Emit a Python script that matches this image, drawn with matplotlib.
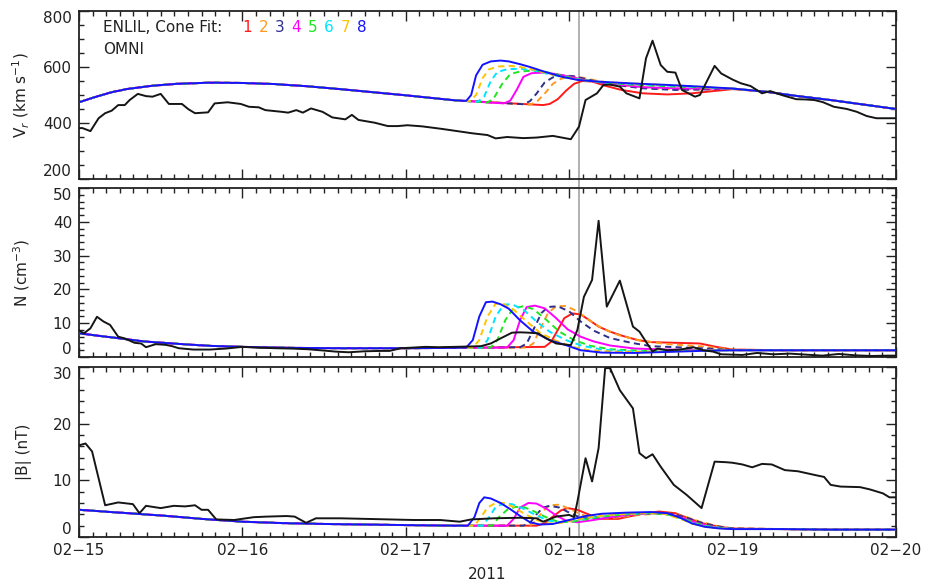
import matplotlib
matplotlib.use("Agg")
import matplotlib.pyplot as plt
from matplotlib.lines import Line2D
from matplotlib.transforms import blended_transform_factory
from matplotlib.ticker import MultipleLocator, FixedLocator

plt.rcParams['font.family'] = ['DejaVu Sans']

# days of February 2011
day_ticks = [15, 16, 17, 18, 19, 20]
day_labels = ['02\u221215', '02\u221216', '02\u221217', '02\u221218', '02\u221219', '02\u221220']
shock_day = 18.06

cone_names = ['1', '2', '3', '4', '5', '6', '7', '8']
cone_colors = ['#ff1a1a', '#ff9a1f', '#2e2e8c', '#ff00ff', '#1fe61f', '#00e5ff', '#ffc400', '#1414ff']
cone_dashed = [False, True, True, False, True, True, True, False]

# ---------------- Vr (km/s) ----------------
vr_bg = [(15.0, 474), (15.1, 493), (15.2, 510), (15.3, 522), (15.45, 533), (15.6, 540), (15.8, 544),
         (16.0, 543), (16.2, 539), (16.4, 531), (16.6, 521), (16.8, 510), (17.0, 499), (17.2, 487), (17.3, 481)]
vr_tail = [(19.2, 512), (19.4, 496), (19.6, 482), (19.8, 466), (20.0, 450)]
vr_c1 = [(17.84, 464), (17.88, 468), (17.93, 485), (17.98, 515), (18.03, 540), (18.08, 550), (18.14, 548),
         (18.22, 533), (18.32, 518), (18.45, 506), (18.6, 502), (18.75, 506), (18.9, 515), (19.0, 521)]
vr_c2 = [(17.76, 466), (17.8, 475), (17.85, 505), (17.9, 540), (17.95, 558), (18.01, 566), (18.08, 562),
         (18.18, 550), (18.35, 533), (18.55, 522), (18.75, 520), (18.9, 521), (19.0, 523)]
vr_c3 = [(17.72, 467), (17.76, 478), (17.8, 505), (17.85, 545), (17.9, 563), (17.96, 570), (18.03, 567),
         (18.1, 557), (18.25, 538), (18.45, 524), (18.65, 518), (18.85, 520), (19.0, 523)]
vr_c4 = [(17.6, 470), (17.64, 480), (17.68, 520), (17.72, 565), (17.77, 578), (17.84, 580), (17.92, 575),
         (18.0, 566), (18.1, 553), (18.25, 540), (18.45, 528), (18.65, 524), (18.85, 523), (19.0, 523)]
vr_c5 = [(17.5, 473), (17.54, 490), (17.59, 540), (17.64, 575), (17.7, 584), (17.78, 587), (17.86, 582),
         (17.95, 570), (18.05, 557), (18.2, 545), (18.4, 536), (18.6, 531), (18.8, 527), (19.0, 523)]
vr_c6 = [(17.44, 476), (17.48, 495), (17.52, 550), (17.56, 582), (17.62, 592), (17.7, 594), (17.78, 588),
         (17.88, 574), (17.98, 562), (18.08, 553), (18.25, 543), (18.5, 536), (18.7, 531), (18.85, 526), (19.0, 523)]
vr_c7 = [(17.39, 478), (17.43, 500), (17.47, 560), (17.51, 592), (17.57, 602), (17.64, 604), (17.7, 600),
         (17.8, 588), (17.9, 572), (18.0, 560), (18.1, 552), (18.3, 543), (18.5, 538), (18.7, 533), (18.85, 527), (19.0, 523)]
vr_c8 = [(17.37, 479), (17.4, 500), (17.43, 570), (17.47, 608), (17.52, 620), (17.58, 623), (17.63, 620),
         (17.7, 610), (17.76, 600), (17.85, 583), (17.95, 566), (18.05, 554), (18.2, 547), (18.4, 541),
         (18.6, 536), (18.8, 530), (19.0, 523)]
vr_omni = [(14.98, 381), (15.02, 382), (15.07, 371), (15.12, 417), (15.16, 435), (15.2, 444), (15.24, 464),
           (15.28, 464), (15.31, 482), (15.36, 504), (15.41, 496), (15.45, 494), (15.5, 504), (15.55, 468),
           (15.63, 468), (15.67, 449), (15.71, 435), (15.79, 438), (15.83, 470), (15.91, 474), (15.99, 468),
           (16.04, 458), (16.1, 456), (16.14, 446), (16.24, 440), (16.28, 437), (16.33, 446), (16.37, 437),
           (16.42, 452), (16.49, 440), (16.55, 420), (16.63, 413), (16.67, 429), (16.71, 411), (16.81, 401),
           (16.89, 389), (16.95, 389), (17.01, 392), (17.1, 388), (17.22, 379), (17.41, 363), (17.5, 357),
           (17.55, 345), (17.62, 350), (17.72, 346), (17.8, 348), (17.9, 354), (18.01, 342), (18.06, 387),
           (18.1, 482), (18.17, 506), (18.21, 536), (18.25, 537), (18.31, 530), (18.35, 506), (18.43, 488),
           (18.47, 631), (18.51, 694), (18.56, 607), (18.6, 583), (18.65, 580), (18.69, 518), (18.77, 494),
           (18.8, 500), (18.89, 604), (18.93, 577), (19.0, 555), (19.05, 542), (19.11, 532), (19.18, 506),
           (19.23, 514), (19.3, 500), (19.39, 485), (19.45, 484), (19.5, 482), (19.55, 475), (19.62, 458),
           (19.7, 450), (19.76, 440), (19.82, 425), (19.88, 417), (20.0, 417)]

# ---------------- N (cm^-3) ----------------
n_bg = [(15.0, 7.0), (15.2, 5.8), (15.4, 4.6), (15.6, 3.9), (15.8, 3.3), (16.0, 3.0), (16.3, 2.7),
        (16.6, 2.6), (17.0, 2.6), (17.3, 2.7)]
n_tail = [(19.3, 2.0), (19.6, 2.0), (20.0, 2.0)]
n_c1 = [(17.85, 3.0), (17.89, 4.5), (17.93, 8.0), (17.97, 11.5), (18.02, 12.9), (18.07, 12.6), (18.12, 11.0),
        (18.18, 9.0), (18.25, 7.5), (18.33, 6.2), (18.42, 5.0), (18.5, 4.4), (18.8, 4.0), (18.9, 3.0), (19.0, 2.2)]
n_c2 = [(17.74, 2.8), (17.78, 4.0), (17.82, 8.0), (17.87, 13.0), (17.92, 15.0), (17.98, 15.1), (18.05, 13.5),
        (18.12, 11.0), (18.2, 8.5), (18.3, 6.5), (18.42, 5.0), (18.6, 3.8), (18.8, 3.2), (19.0, 2.2)]
n_c3 = [(17.7, 2.9), (17.74, 4.0), (17.78, 8.0), (17.83, 13.0), (17.87, 14.8), (17.93, 15.0), (18.0, 13.5),
        (18.07, 10.5), (18.15, 7.8), (18.25, 5.6), (18.38, 4.2), (18.5, 3.2), (18.7, 2.8), (18.85, 2.5), (19.0, 2.0)]
n_c4 = [(17.62, 2.8), (17.66, 5.0), (17.7, 11.0), (17.74, 14.8), (17.79, 15.2), (17.85, 14.4), (17.92, 11.5),
        (17.99, 8.2), (18.07, 6.0), (18.15, 4.6), (18.25, 3.4), (18.4, 2.5), (18.6, 2.2), (18.8, 2.1), (19.0, 2.0)]
n_c5 = [(17.52, 2.8), (17.56, 5.0), (17.61, 11.0), (17.66, 14.5), (17.72, 15.0), (17.78, 14.2), (17.86, 11.0),
        (17.94, 7.5), (18.03, 5.0), (18.13, 3.3), (18.25, 2.3), (18.45, 1.8), (18.65, 1.9), (19.0, 2.0)]
n_c6 = [(17.46, 2.8), (17.5, 5.0), (17.55, 12.0), (17.6, 15.5), (17.65, 15.6), (17.72, 14.0), (17.8, 10.5),
        (17.88, 7.5), (17.98, 5.0), (18.08, 3.3), (18.2, 2.2), (18.4, 1.6), (18.6, 1.7), (18.8, 1.9), (19.0, 2.0)]
n_c7 = [(17.41, 2.8), (17.45, 5.0), (17.5, 12.0), (17.55, 15.8), (17.6, 15.6), (17.66, 14.0), (17.74, 10.5),
        (17.82, 7.2), (17.92, 4.8), (18.02, 3.0), (18.12, 2.0), (18.3, 1.5), (18.6, 1.6), (18.8, 1.9), (19.0, 2.0)]
n_c8 = [(17.37, 2.8), (17.41, 5.0), (17.45, 12.0), (17.49, 16.2), (17.53, 16.4), (17.58, 15.6), (17.63, 14.3),
        (17.7, 10.8), (17.78, 7.5), (17.88, 5.0), (17.98, 3.5), (18.07, 2.0), (18.2, 1.3), (18.4, 1.2),
        (18.6, 1.5), (18.8, 1.8), (19.0, 2.0)]
n_omni = [(14.99, 8.2), (15.03, 7.0), (15.07, 8.5), (15.11, 11.9), (15.15, 10.5), (15.19, 9.5), (15.24, 6.0),
          (15.28, 5.5), (15.34, 4.2), (15.38, 4.0), (15.41, 2.9), (15.47, 3.8), (15.53, 3.6), (15.57, 3.2),
          (15.61, 2.6), (15.7, 2.2), (15.8, 2.2), (15.9, 2.5), (16.0, 3.0), (16.08, 2.8), (16.2, 2.6),
          (16.3, 2.5), (16.4, 2.3), (16.5, 1.9), (16.57, 1.6), (16.65, 1.4), (16.75, 1.7), (16.85, 1.8),
          (16.9, 1.8), (16.97, 2.6), (17.05, 2.8), (17.12, 3.0), (17.2, 2.9), (17.3, 3.0), (17.46, 3.2),
          (17.52, 4.0), (17.58, 5.5), (17.65, 7.2), (17.7, 7.3), (17.75, 7.2), (17.81, 7.0), (17.86, 5.5),
          (17.92, 4.0), (18.01, 3.5), (18.05, 8.0), (18.09, 17.8), (18.14, 22.8), (18.18, 40.3), (18.23, 14.9),
          (18.31, 22.6), (18.39, 9.0), (18.43, 7.5), (18.47, 4.5), (18.51, 1.6), (18.54, 2.5), (18.6, 2.0),
          (18.68, 2.2), (18.76, 2.9), (18.82, 2.0), (18.88, 1.6), (18.93, 0.8), (19.0, 0.7), (19.06, 0.6),
          (19.15, 1.2), (19.25, 0.8), (19.35, 1.0), (19.45, 0.7), (19.55, 0.4), (19.65, 0.9), (19.75, 0.5),
          (19.85, 0.3), (19.95, 0.4), (20.0, 0.4)]

# ---------------- |B| (nT) ----------------
b_bg = [(15.0, 4.8), (15.25, 4.3), (15.5, 3.8), (15.75, 3.2), (16.0, 2.7), (16.25, 2.45), (16.5, 2.3),
        (16.75, 2.2), (17.0, 2.1), (17.3, 2.0)]
b_tail = [(19.3, 1.4), (19.6, 1.3), (20.0, 1.3)]
b_c1 = [(17.8, 2.0), (17.85, 2.4), (17.9, 3.6), (17.95, 4.7), (17.99, 5.1), (18.05, 4.8), (18.1, 4.2),
        (18.19, 3.2), (18.3, 3.2), (18.43, 4.0), (18.55, 4.5), (18.65, 4.2), (18.73, 3.3), (18.82, 2.4),
        (18.92, 1.8), (19.0, 1.5)]
b_c2 = [(17.76, 2.0), (17.8, 3.0), (17.84, 4.6), (17.88, 5.6), (17.94, 5.7), (18.0, 5.0), (18.07, 4.0),
        (18.15, 3.3), (18.25, 3.3), (18.4, 3.8), (18.52, 4.1), (18.63, 4.1), (18.72, 3.5), (18.8, 2.7),
        (18.9, 2.0), (19.0, 1.5)]
b_c3 = [(17.72, 2.0), (17.76, 2.5), (17.8, 4.0), (17.84, 5.2), (17.88, 5.5), (17.94, 5.2), (18.0, 4.3),
        (18.07, 3.4), (18.15, 3.2), (18.25, 3.5), (18.4, 4.0), (18.52, 4.2), (18.63, 4.1), (18.72, 3.4),
        (18.8, 2.6), (18.9, 1.9), (19.0, 1.5)]
b_c4 = [(17.62, 2.0), (17.66, 3.2), (17.7, 5.2), (17.75, 6.0), (17.8, 5.9), (17.86, 5.0), (17.92, 3.8),
        (17.98, 2.9), (18.05, 2.6), (18.15, 3.0), (18.25, 3.5), (18.4, 4.0), (18.52, 4.2), (18.62, 4.0),
        (18.71, 3.2), (18.79, 2.4), (18.88, 1.8), (19.0, 1.4)]
b_c5 = [(17.53, 2.0), (17.57, 3.5), (17.62, 4.8), (17.67, 5.3), (17.72, 5.3), (17.78, 4.6), (17.85, 3.6),
        (17.92, 2.8), (18.0, 2.6), (18.1, 3.1), (18.2, 3.6), (18.35, 4.0), (18.5, 4.2), (18.6, 4.0),
        (18.7, 3.2), (18.78, 2.4), (18.87, 1.8), (19.0, 1.4)]
b_c6 = [(17.47, 2.0), (17.51, 3.5), (17.55, 5.3), (17.6, 5.9), (17.65, 5.8), (17.72, 5.0), (17.8, 3.8),
        (17.87, 2.9), (17.95, 2.6), (18.05, 3.0), (18.15, 3.5), (18.3, 4.0), (18.45, 4.2), (18.58, 4.1),
        (18.68, 3.3), (18.76, 2.4), (18.85, 1.8), (19.0, 1.4)]
b_c7 = [(17.42, 2.0), (17.46, 3.5), (17.5, 5.2), (17.55, 6.0), (17.6, 6.0), (17.66, 5.3), (17.72, 4.2),
        (17.8, 3.0), (17.87, 2.4), (17.95, 2.5), (18.05, 3.1), (18.15, 3.6), (18.3, 4.0), (18.45, 4.2),
        (18.58, 4.1), (18.68, 3.2), (18.76, 2.3), (18.85, 1.7), (19.0, 1.4)]
b_c8 = [(17.38, 2.0), (17.42, 3.5), (17.45, 6.0), (17.48, 7.0), (17.52, 6.8), (17.58, 6.0), (17.64, 4.9),
        (17.7, 3.7), (17.76, 2.6), (17.82, 2.2), (17.9, 2.3), (18.0, 3.0), (18.1, 3.7), (18.2, 4.1),
        (18.35, 4.3), (18.5, 4.4), (18.6, 4.2), (18.68, 3.4), (18.75, 2.4), (18.83, 1.8), (18.92, 1.5), (19.0, 1.4)]
b_omni = [(14.99, 16.1), (15.04, 16.5), (15.08, 15.1), (15.16, 5.6), (15.24, 6.1), (15.33, 5.8), (15.37, 4.2),
          (15.41, 5.5), (15.5, 5.1), (15.58, 5.5), (15.65, 5.4), (15.71, 5.6), (15.75, 4.8), (15.79, 4.8),
          (15.84, 3.1), (15.95, 3.0), (16.07, 3.5), (16.15, 3.6), (16.27, 3.7), (16.32, 3.6), (16.39, 2.5),
          (16.45, 3.3), (16.6, 3.3), (16.75, 3.2), (16.9, 3.1), (17.05, 3.0), (17.21, 3.0), (17.33, 2.7),
          (17.4, 3.1), (17.54, 3.3), (17.7, 3.4), (17.8, 3.3), (17.84, 2.7), (17.92, 3.6), (18.0, 3.9),
          (18.03, 3.5), (18.05, 6.2), (18.1, 13.9), (18.14, 9.8), (18.18, 15.7), (18.22, 29.8), (18.25, 29.8),
          (18.31, 25.9), (18.39, 22.7), (18.43, 14.8), (18.47, 13.9), (18.51, 14.6), (18.56, 12.4),
          (18.64, 9.2), (18.72, 7.4), (18.81, 5.1), (18.89, 13.3), (18.96, 13.2), (19.0, 13.1), (19.06, 12.8),
          (19.12, 12.3), (19.18, 12.9), (19.24, 12.8), (19.32, 11.8), (19.4, 11.6), (19.51, 10.9),
          (19.56, 10.6), (19.6, 9.2), (19.66, 8.9), (19.78, 8.8), (19.84, 8.4), (19.92, 7.7), (19.96, 7.0),
          (20.0, 7.0)]

vr_cones = [vr_c1, vr_c2, vr_c3, vr_c4, vr_c5, vr_c6, vr_c7, vr_c8]
n_cones = [n_c1, n_c2, n_c3, n_c4, n_c5, n_c6, n_c7, n_c8]
b_cones = [b_c1, b_c2, b_c3, b_c4, b_c5, b_c6, b_c7, b_c8]

W, H = 929, 582
fig = plt.figure(figsize=(W / 100, H / 100), dpi=100)


def px_rect(top, bottom, left=79, right=896):
    return [left / W, 1 - bottom / H, (right - left) / W, (bottom - top) / H]


panels = [
    (px_rect(11, 179), vr_bg, vr_cones, vr_tail, vr_omni, (200, 800), 200, 50, 'V$_r$ (km s$^{-1}$)'),
    (px_rect(188, 357), n_bg, n_cones, n_tail, n_omni, (0, 50), 10, 2, 'N (cm$^{-3}$)'),
    (px_rect(367, 537), b_bg, b_cones, b_tail, b_omni, (0, 30), 10, 2, '|B| (nT)'),
]

FS = 11
axes = []
for rect, bg, cones, tail, omni, ylim, ymaj, ymin, ylab in panels:
    ax = fig.add_axes(rect)
    ax.patch.set_alpha(0)
    axes.append(ax)
    for k in range(8):
        pts = bg + cones[k] + tail
        t = [p[0] for p in pts]
        v = [p[1] for p in pts]
        ls = (0, (3.2, 2.2)) if cone_dashed[k] else '-'
        ax.plot(t, v, color=cone_colors[k], lw=1.4, ls=ls, zorder=2 + k * 0.1)
    ax.plot([p[0] for p in omni], [p[1] for p in omni], color='#151515', lw=1.4, zorder=4)

    ax.xaxis.set_major_locator(FixedLocator(day_ticks))
    ax.xaxis.set_minor_locator(MultipleLocator(1 / 12))
    yt = list(range(ylim[0], ylim[1] + 1, ymaj))
    ax.yaxis.set_major_locator(FixedLocator(yt))
    ax.yaxis.set_minor_locator(MultipleLocator(ymin))
    ax.set_xlim(15, 20)
    ax.set_ylim(*ylim)
    ax.tick_params(which='both', direction='in', top=True, right=True, width=1.0, color='#222222')
    ax.tick_params(which='major', length=7)
    ax.tick_params(which='minor', length=3.5)
    ax.tick_params(axis='y', labelsize=FS, pad=5, labelcolor='#222222')
    ax.tick_params(axis='x', labelsize=FS, pad=4, labelcolor='#222222')
    for s in ax.spines.values():
        s.set_linewidth(1.3)
        s.set_color('#222222')
    ax.set_ylabel(ylab, fontsize=FS, color='#222222')
    ax.yaxis.set_label_coords(-0.057, 0.5)

for ax in axes[:2]:
    ax.xaxis.set_ticklabels([])
axes[2].xaxis.set_ticklabels(day_labels)
axes[2].set_xlabel('2011', fontsize=FS, color='#222222', labelpad=7)

# shock time marker through all three panels (behind the curves)
shock_tr = blended_transform_factory(axes[2].transData, fig.transFigure)
fig.lines.append(Line2D([shock_day, shock_day], [1 - 537 / H, 1 - 11 / H], transform=shock_tr,
                        color='#b0b0b0', lw=1.4, zorder=-1))

# legend text in the top panel
ax0 = axes[0]
tr = ax0.transAxes
ax0.text((103 - 79) / 817, 1 - (27 - 11) / 168, 'ENLIL, Cone Fit:', transform=tr,
         fontsize=FS, color='#222222', ha='left', va='center')
for k in range(8):
    xk = 246.7 + 16.5 * k
    ax0.text((xk - 79) / 817, 1 - (27 - 11) / 168, cone_names[k], transform=tr,
             fontsize=FS, color=cone_colors[k], ha='center', va='center')
ax0.text((103 - 79) / 817, 1 - (50 - 11) / 168, 'OMNI', transform=tr,
         fontsize=FS, color='#222222', ha='left', va='center')

fig.canvas.draw()
for ax in axes:
    labs = ax.get_yticklabels()
    labs[0].set_va('bottom')
    labs[-1].set_va('top')

fig.savefig('out.png', dpi=100)
